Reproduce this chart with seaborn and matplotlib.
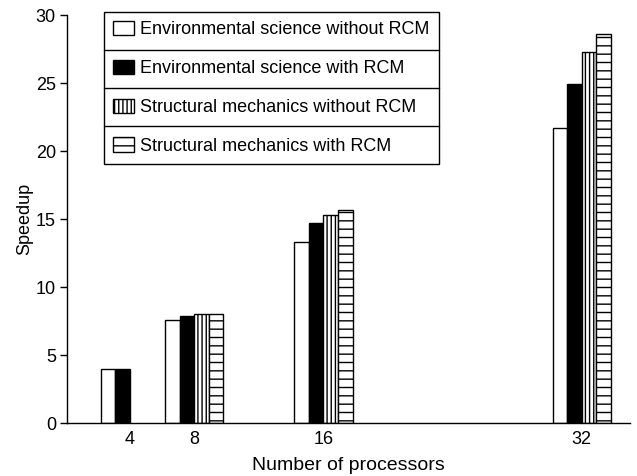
import numpy as np
import pandas as pd
import seaborn as sns
import matplotlib
matplotlib.use("Agg")
import matplotlib.pyplot as plt
from matplotlib.patches import Patch
from matplotlib.lines import Line2D

processors = [4, 8, 16, 32]
env_without = [4.0, 7.6, 13.3, 21.7]
env_with = [4.0, 7.85, 14.7, 24.9]
struct_without = [None, 8.0, 15.3, 27.3]
struct_with = [None, 8.0, 15.65, 28.6]
series_names = [
    "Environmental science without RCM",
    "Environmental science with RCM",
    "Structural mechanics without RCM",
    "Structural mechanics with RCM",
]
y_ticks = [0, 5, 10, 15, 20, 25, 30]

rows = []
for name, vals in zip(series_names, [env_without, env_with, struct_without, struct_with]):
    for p, v in zip(processors, vals):
        if v is not None:
            rows.append({"processors": p, "speedup": v, "series": name})
df = pd.DataFrame(rows)

sns.set_theme(style="ticks")
plt.rcParams["font.family"] = ["Liberation Sans", "DejaVu Sans"]
plt.rcParams["hatch.linewidth"] = 1.0
plt.rcParams["hatch.color"] = "black"
plt.rcParams["text.color"] = "black"
plt.rcParams["axes.labelcolor"] = "black"
plt.rcParams["xtick.color"] = "black"
plt.rcParams["ytick.color"] = "black"

faces = ["white", "black", "white", "white"]
hatches = [None, None, "||||", "--"]

fig = plt.figure(figsize=(6.37, 4.76), dpi=100)
ax = fig.add_axes([67 / 637, (476 - 423) / 476, (630 - 67) / 637, (423 - 15) / 476])

sns.barplot(data=df, x="processors", y="speedup", hue="series", hue_order=series_names,
            native_scale=True, width=0.9, palette=faces, saturation=1,
            edgecolor="black", linewidth=1.0, errorbar=None, legend=False, ax=ax)

for i, cont in enumerate(ax.containers):
    for patch in cont:
        patch.set_facecolor(faces[i])
        patch.set_edgecolor("black")
        if hatches[i]:
            patch.set_hatch(hatches[i])

ax.set_xlim(0.1, 35.0)
ax.set_ylim(0, 30)
ax.set_xticks(processors)
ax.set_xticklabels([str(p) for p in processors])
ax.set_yticks(y_ticks)
ax.tick_params(axis="x", length=0, labelsize=13, pad=6, labelcolor="black")
ax.tick_params(axis="y", length=5, width=1, labelsize=13, pad=3, color="black", labelcolor="black")
for s in ["top", "right"]:
    ax.spines[s].set_visible(False)
for s in ["left", "bottom"]:
    ax.spines[s].set_linewidth(1.0)
    ax.spines[s].set_color("black")
ax.set_xlabel("Number of processors", fontsize=14, labelpad=6, color="black")
ax.set_ylabel("Speedup", fontsize=13, labelpad=2, color="black")

handles = [Patch(facecolor=faces[i], edgecolor="black", hatch=hatches[i], linewidth=1.0)
           for i in range(4)]
leg = fig.legend(handles=handles, labels=series_names, loc="upper left",
                 bbox_to_anchor=(104 / 637, 1 - 12 / 476), bbox_transform=fig.transFigure,
                 borderaxespad=0, fontsize=13, frameon=True, fancybox=False, shadow=False,
                 framealpha=1, edgecolor="black", borderpad=0.5, labelspacing=1.18,
                 handlelength=1.15, handleheight=0.85, handletextpad=0.35, labelcolor="black")
leg.get_frame().set_linewidth(1.0)
leg.set_zorder(5)

fig.canvas.draw()
bb = leg.get_frame().get_window_extent()
inv = fig.transFigure.inverted()
for k in range(1, 4):
    y = bb.y0 + k * bb.height / 4
    (x0, yy), (x1, _) = inv.transform([(bb.x0, y), (bb.x1, y)])
    fig.add_artist(Line2D([x0, x1], [yy, yy], color="black", linewidth=1.0,
                          transform=fig.transFigure, zorder=10))

fig.savefig("out.png", dpi=100)
